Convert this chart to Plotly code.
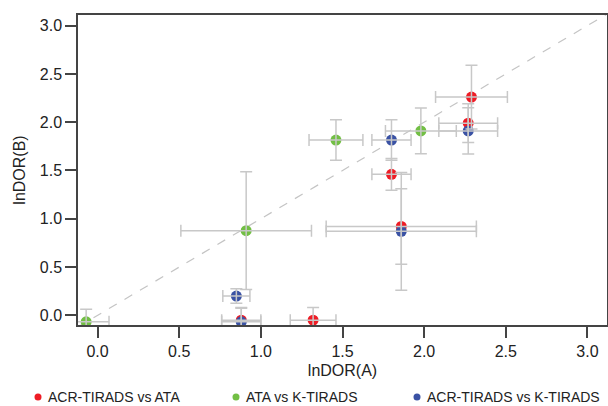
import plotly.graph_objects as go

# ---------------- data ----------------
series_names = ["ACR-TIRADS vs ATA", "ATA vs K-TIRADS", "ACR-TIRADS vs K-TIRADS"]
series_colors = ["#ee1c25", "#72bf44", "#3a52a4"]

# ACR-TIRADS vs ATA
red_x = [2.29, 2.27, 1.80, 1.86, 0.88, 1.32]
red_y = [2.26, 1.99, 1.46, 0.92, -0.05, -0.05]
red_x_err = [0.22, 0.18, 0.12, 0.46, 0.12, 0.14]
red_y_err = [0.33, 0.20, 0.165, 0.39, 0.13, 0.13]

# ATA vs K-TIRADS
green_x = [1.98, 1.46, 0.91, -0.07]
green_y = [1.91, 1.815, 0.877, -0.067]
green_x_err = [0.217, 0.165, 0.40, 0.14]
green_y_err = [0.237, 0.21, 0.61, 0.13]

# ACR-TIRADS vs K-TIRADS
blue_x = [2.27, 1.80, 1.86, 0.85, 0.88]
blue_y = [1.91, 1.815, 0.87, 0.20, -0.067]
blue_x_err = [0.18, 0.12, 0.46, 0.083, 0.12]
blue_y_err = [0.24, 0.21, 0.61, 0.075, 0.14]

x_ticks = [0.0, 0.5, 1.0, 1.5, 2.0, 2.5, 3.0]
y_ticks = [0.0, 0.5, 1.0, 1.5, 2.0, 2.5, 3.0]
x_range = [-0.12, 3.12]
y_range = [-0.10, 3.11]

# ---------------- figure ----------------
W, H = 608, 406
ML, MR, MT, MB = 78, 1, 15, 81
FONT = "Liberation Sans, Arial, sans-serif"
ERR_COLOR = "#c8c8c8"
AX_COLOR = "#444444"
TXT = "#222222"

series = [
    (red_x, red_y, red_x_err, red_y_err),
    (green_x, green_y, green_x_err, green_y_err),
    (blue_x, blue_y, blue_x_err, blue_y_err),
]

fig = go.Figure()

# markers
for (xs, ys, _, _), name, col in zip(series, series_names, series_colors):
    fig.add_trace(go.Scatter(
        x=xs, y=ys, mode="markers", name=name, showlegend=False,
        marker=dict(size=11, color=col, line=dict(width=0)),
    ))

# error bars drawn on top of markers
for (xs, ys, xe, ye), name, col in zip(series, series_names, series_colors):
    fig.add_trace(go.Scatter(
        x=xs, y=ys, mode="markers", showlegend=False, hoverinfo="skip",
        marker=dict(size=1, color="rgba(0,0,0,0)"),
        error_x=dict(type="data", array=xe, symmetric=True, color=ERR_COLOR, thickness=1.5, width=6),
        error_y=dict(type="data", array=ye, symmetric=True, color=ERR_COLOR, thickness=1.5, width=6),
    ))

# identity reference line
fig.add_shape(type="line", xref="x", yref="y",
              x0=x_range[0], y0=x_range[0], x1=x_range[1], y1=x_range[1],
              line=dict(color="#c4c4c4", width=1.2, dash="dash"), layer="below")

# custom legend (dot + text)
plot_w = W - ML - MR
plot_h = H - MT - MB
legend_dot_px = [38, 236, 417]
legend_py = 397
for name, col, dx in zip(series_names, series_colors, legend_dot_px):
    px_paper = (dx - ML) / plot_w
    py_paper = (H - MB - legend_py) / plot_h
    fig.add_shape(type="circle", xref="paper", yref="paper",
                  xsizemode="pixel", ysizemode="pixel",
                  xanchor=px_paper, yanchor=py_paper,
                  x0=-3.5, x1=3.5, y0=-3.5, y1=3.5,
                  fillcolor=col, line=dict(width=0))
    fig.add_annotation(text=name, xref="paper", yref="paper",
                       x=(dx + 8 - ML) / plot_w, y=py_paper,
                       xanchor="left", yanchor="middle", showarrow=False,
                       font=dict(family=FONT, size=14, color=TXT))

axis_common = dict(
    showgrid=False, zeroline=False, showline=True, linecolor=AX_COLOR, linewidth=1.5,
    mirror=True, ticks="outside", ticklen=11, tickwidth=1.5, tickcolor=AX_COLOR,
    tickfont=dict(family=FONT, size=16, color=TXT),
)

fig.update_layout(
    width=W, height=H,
    margin=dict(l=ML, r=MR, t=MT, b=MB, autoexpand=False),
    paper_bgcolor="white", plot_bgcolor="white",
    font=dict(family=FONT, color=TXT),
    xaxis=dict(range=x_range, tickvals=x_ticks, ticktext=[f"{v:.1f}" for v in x_ticks],
               title=dict(text="lnDOR(A)", font=dict(family=FONT, size=16, color=TXT), standoff=6),
               **axis_common),
    yaxis=dict(range=y_range, tickvals=y_ticks, ticktext=[f"{v:.1f}" for v in y_ticks],
               title=dict(text="lnDOR(B)", font=dict(family=FONT, size=16, color=TXT), standoff=10),
               **axis_common),
    showlegend=False,
)

fig.write_html("out.html", config={"displayModeBar": False},
               post_script="document.body.style.margin='0';document.body.style.overflow='hidden';")
